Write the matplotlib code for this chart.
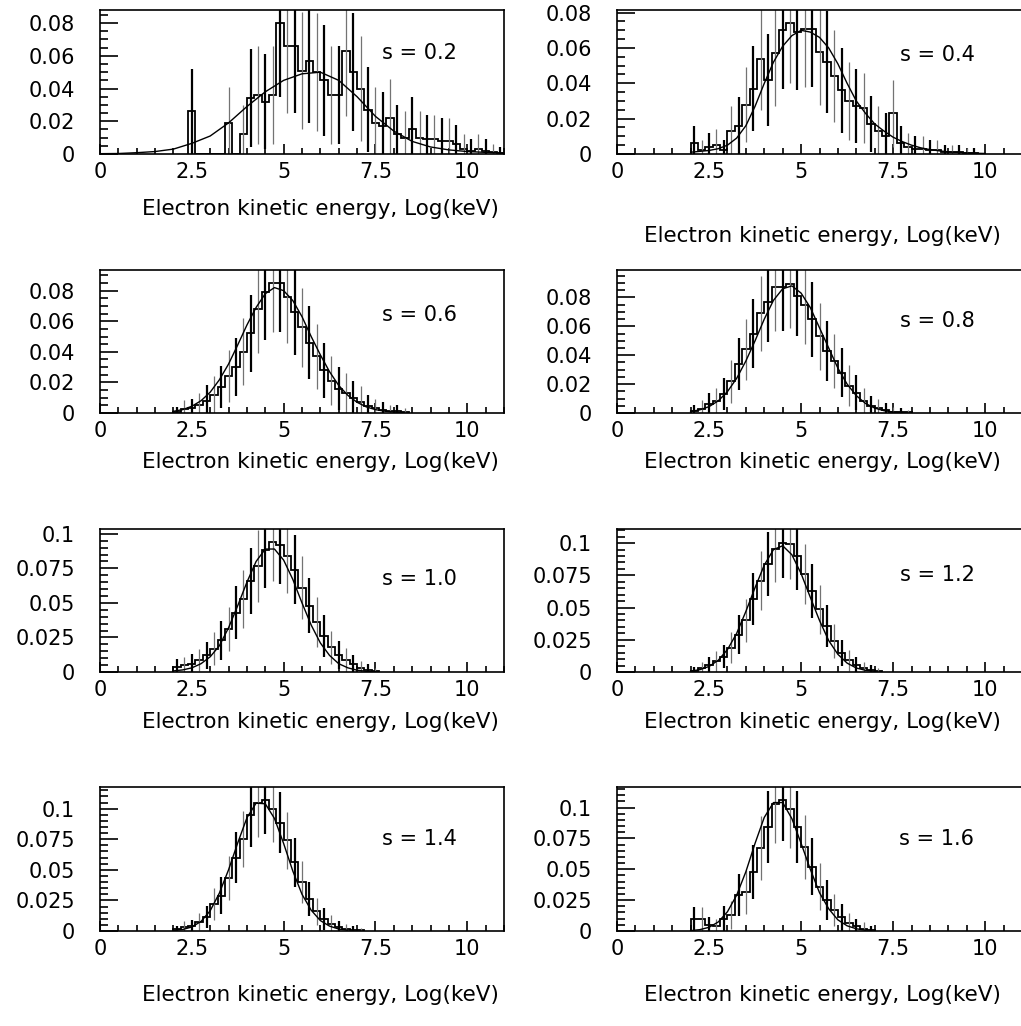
import numpy as np
import matplotlib
matplotlib.use("Agg")
import matplotlib.pyplot as plt
from matplotlib.ticker import MultipleLocator, FuncFormatter

# s parameter of each panel, left-to-right, top-to-bottom
s_labels = ["0.2", "0.4", "0.6", "0.8", "1.0", "1.2", "1.4", "1.6"]

# histograms: 0.2 wide bins, first bin edge given in hist_start
bin_w = 0.2
hist_start = [2.4, 2.0, 2.0, 2.0, 2.0, 2.0, 2.0, 2.0]

hist_02 = [0.026, 0, 0, 0, 0, 0.019, 0, 0.012, 0.034, 0.036, 0.032, 0.036, 0.080, 0.066, 0.066,
           0.051, 0.057, 0.050, 0.045, 0.036, 0.036, 0.063, 0.050, 0.040, 0.027, 0.019, 0.017, 0.022,
           0.012, 0.010, 0.015, 0.010, 0.009, 0.009, 0.008, 0.008, 0.006, 0.003, 0.002, 0.003, 0.002,
           0.001, 0.0005]
err_02 = [0.026, 0, 0, 0, 0, 0.022, 0, 0.018, 0.030, 0.030, 0.029, 0.030, 0.045, 0.041, 0.041,
          0.036, 0.038, 0.036, 0.034, 0.030, 0.030, 0.040, 0.036, 0.032, 0.026, 0.022, 0.021, 0.024,
          0.018, 0.016, 0.020, 0.016, 0.015, 0.015, 0.014, 0.014, 0.012, 0.009, 0.007, 0.009, 0.007,
          0.005, 0.004]

hist_04 = [0.006, 0.002, 0.004, 0.005, 0.002, 0.013, 0.016, 0.028, 0.037, 0.054, 0.042, 0.057, 0.070,
           0.074, 0.069, 0.071, 0.071, 0.058, 0.052, 0.044, 0.036, 0.030, 0.027, 0.026, 0.017, 0.013,
           0.010, 0.023, 0.006, 0.004, 0.003, 0.003, 0.002, 0.002, 0.001, 0.001, 0.001, 0.0005, 0.0005]
err_04 = [0.010, 0.006, 0.008, 0.009, 0.006, 0.014, 0.016, 0.021, 0.024, 0.029, 0.026, 0.030, 0.033,
          0.034, 0.033, 0.033, 0.033, 0.030, 0.029, 0.026, 0.024, 0.022, 0.021, 0.020, 0.016, 0.014,
          0.013, 0.019, 0.010, 0.008, 0.007, 0.007, 0.006, 0.006, 0.004, 0.004, 0.004, 0.003, 0.003]

hist_06 = [0.0006, 0.0025, 0.003, 0.005, 0.008, 0.012, 0.017, 0.024, 0.030, 0.040, 0.052, 0.068, 0.079,
           0.085, 0.085, 0.076, 0.066, 0.056, 0.046, 0.037, 0.028, 0.021, 0.016, 0.013, 0.010, 0.0075,
           0.0045, 0.003, 0.002, 0.0015, 0.001, 0.0005]
err_06 = [0.003, 0.006, 0.006, 0.008, 0.010, 0.012, 0.014, 0.017, 0.019, 0.022, 0.025, 0.029, 0.031,
          0.032, 0.032, 0.030, 0.028, 0.026, 0.024, 0.021, 0.018, 0.016, 0.014, 0.013, 0.011, 0.010,
          0.007, 0.006, 0.005, 0.004, 0.004, 0.003]

hist_08 = [0.0016, 0.003, 0.006, 0.0085, 0.013, 0.022, 0.034, 0.044, 0.055, 0.069, 0.077, 0.087, 0.087,
           0.089, 0.081, 0.075, 0.065, 0.053, 0.043, 0.036, 0.028, 0.019, 0.014, 0.0085, 0.005, 0.0034,
           0.002, 0.001, 0.0008, 0.0004]
err_08 = [0.004, 0.006, 0.008, 0.009, 0.011, 0.015, 0.018, 0.021, 0.024, 0.026, 0.028, 0.030, 0.030,
          0.030, 0.028, 0.027, 0.026, 0.023, 0.021, 0.019, 0.017, 0.014, 0.012, 0.009, 0.007, 0.006,
          0.005, 0.003, 0.003, 0.002]

hist_10 = [0.0036, 0.0048, 0.006, 0.0084, 0.012, 0.017, 0.023, 0.031, 0.043, 0.053, 0.066, 0.077, 0.088,
           0.094, 0.092, 0.084, 0.074, 0.061, 0.048, 0.036, 0.026, 0.018, 0.0125, 0.0085, 0.0055,
           0.0032, 0.0016, 0.0007]
err_10 = [0.006, 0.006, 0.007, 0.008, 0.010, 0.012, 0.014, 0.016, 0.019, 0.021, 0.024, 0.026, 0.027,
          0.028, 0.028, 0.027, 0.025, 0.023, 0.020, 0.018, 0.015, 0.012, 0.010, 0.009, 0.007, 0.005,
          0.004, 0.002]

hist_12 = [0.001, 0.003, 0.0057, 0.0083, 0.012, 0.019, 0.029, 0.040, 0.0565, 0.071, 0.084, 0.0956, 0.100,
           0.0995, 0.090, 0.076, 0.063, 0.0487, 0.0357, 0.024, 0.0148, 0.0091, 0.0057, 0.003, 0.0018,
           0.0008]
err_12 = [0.003, 0.005, 0.006, 0.008, 0.009, 0.012, 0.015, 0.017, 0.020, 0.023, 0.025, 0.026, 0.027,
          0.027, 0.026, 0.023, 0.021, 0.019, 0.016, 0.013, 0.010, 0.008, 0.006, 0.005, 0.004, 0.002]

hist_14 = [0.0014, 0.003, 0.004, 0.0076, 0.0116, 0.022, 0.029, 0.043, 0.060, 0.075, 0.095, 0.105, 0.107,
           0.0995, 0.0886, 0.074, 0.056, 0.040, 0.026, 0.016, 0.010, 0.006, 0.0035, 0.002, 0.001, 0.0005]
err_14 = [0.003, 0.005, 0.005, 0.007, 0.009, 0.013, 0.015, 0.018, 0.021, 0.023, 0.026, 0.028, 0.028,
          0.027, 0.025, 0.023, 0.020, 0.017, 0.014, 0.011, 0.009, 0.007, 0.005, 0.004, 0.003, 0.002]

hist_16 = [0.0094, 0.0094, 0.0046, 0.0038, 0.010, 0.013, 0.029, 0.0315, 0.048, 0.067, 0.084, 0.103, 0.106,
           0.099, 0.084, 0.068, 0.052, 0.036, 0.025, 0.017, 0.011, 0.0065, 0.0038, 0.002, 0.001]
err_16 = [0.010, 0.010, 0.007, 0.006, 0.010, 0.011, 0.017, 0.018, 0.022, 0.026, 0.029, 0.032, 0.033,
          0.032, 0.029, 0.026, 0.023, 0.019, 0.016, 0.013, 0.011, 0.008, 0.006, 0.005, 0.003]

# fitted curves
fit_start = [0.0, 2.0, 2.0, 2.0, 2.0, 2.0, 2.0, 2.0]
fit_step = [0.5, 0.25, 0.25, 0.25, 0.25, 0.25, 0.25, 0.25]
fit_02 = [0.0002, 0.0003, 0.0008, 0.0015, 0.003, 0.0065, 0.011, 0.019, 0.029, 0.038, 0.045, 0.049,
          0.050, 0.045, 0.035, 0.023, 0.014, 0.0077, 0.0043, 0.0025, 0.0015, 0.001, 0.0005]
fit_04 = [0.001, 0.0015, 0.002, 0.003, 0.005, 0.009, 0.016, 0.027, 0.040, 0.052, 0.061, 0.067, 0.070,
          0.069, 0.066, 0.060, 0.051, 0.040, 0.030, 0.023, 0.017, 0.013, 0.0095, 0.007, 0.005, 0.0035,
          0.0025, 0.0018, 0.0012, 0.0009, 0.0006, 0.0004, 0.0003]
fit_06 = [0.0011, 0.0022, 0.0044, 0.008, 0.0136, 0.0217, 0.032, 0.0445, 0.0575, 0.069, 0.078, 0.082,
          0.080, 0.0735, 0.063, 0.050, 0.038, 0.027, 0.018, 0.0115, 0.007, 0.004, 0.0022, 0.0012, 0.0006,
          0.0003]
fit_08 = [0.001, 0.0022, 0.0044, 0.0084, 0.0148, 0.024, 0.036, 0.050, 0.065, 0.078, 0.086, 0.088, 0.083,
          0.073, 0.059, 0.045, 0.031, 0.020, 0.012, 0.0066, 0.0034, 0.0016, 0.0007, 0.0003]
fit_10 = [0.0008, 0.0015, 0.003, 0.006, 0.011, 0.019, 0.032, 0.048, 0.065, 0.080, 0.089, 0.089, 0.081,
          0.067, 0.050, 0.034, 0.021, 0.012, 0.006, 0.003, 0.0013, 0.0005, 0.0002]
fit_12 = [0.0007, 0.0018, 0.0043, 0.0091, 0.0174, 0.030, 0.047, 0.0655, 0.083, 0.095, 0.098, 0.091,
          0.0764, 0.058, 0.040, 0.0244, 0.0137, 0.0069, 0.0031, 0.0013, 0.0005]
fit_14 = [0.0004, 0.0012, 0.0033, 0.0078, 0.0165, 0.031, 0.050, 0.072, 0.0925, 0.1045, 0.104, 0.092,
          0.0715, 0.049, 0.030, 0.017, 0.0085, 0.004, 0.0016, 0.0006]
fit_16 = [0.0003, 0.0011, 0.003, 0.0073, 0.0156, 0.029, 0.048, 0.071, 0.092, 0.104, 0.104, 0.091, 0.071,
          0.050, 0.031, 0.018, 0.009, 0.0042, 0.0018, 0.0006]

hists = [hist_02, hist_04, hist_06, hist_08, hist_10, hist_12, hist_14, hist_16]
errs = [err_02, err_04, err_06, err_08, err_10, err_12, err_14, err_16]
fits = [fit_02, fit_04, fit_06, fit_08, fit_10, fit_12, fit_14, fit_16]

y_top = [0.088, 0.0815, 0.0935, 0.099, 0.1035, 0.111, 0.1177, 0.1166]
y_major = [0.02, 0.02, 0.02, 0.02, 0.025, 0.025, 0.025, 0.025]
s_text_y = [0.70, 0.685, 0.685, 0.64, 0.65, 0.675, 0.64, 0.64]
xlabel = "Electron kinetic energy, Log(keV)"

plt.rcParams['font.family'] = ['DejaVu Sans']

W, H = 1021, 1026
fig = plt.figure(figsize=(W / 100, H / 100), dpi=100)

# axes boxes in pixels
col_x = [(100, 504), (617, 1022)]
row_y = [(10, 154), (270, 413), (529, 672), (787, 931)]
label_y = [(209, 236), (462, 462), (722, 722), (995, 995)]
label_x = [320, 822]

fmt = FuncFormatter(lambda v, p: f"{v:g}")

for k in range(8):
    r, c = k // 2, k % 2
    x0, x1 = col_x[c]
    t, b = row_y[r]
    ax = fig.add_axes([x0 / W, 1 - b / H, (x1 - x0) / W, (b - t) / H])

    vals = np.array(hists[k])
    err = np.array(errs[k])
    edges = hist_start[k] + bin_w * np.arange(len(vals) + 1)
    centers = edges[:-1] + bin_w / 2

    # error bars, alternating heavy / faint like the scanned original
    m = err > 0
    heavy = (np.arange(len(vals)) % 2 == 0) & m
    light = (np.arange(len(vals)) % 2 == 1) & m
    ax.vlines(centers[heavy], np.clip(vals[heavy] - err[heavy], 0, None), vals[heavy] + err[heavy],
              color='k', lw=1.6)
    ax.vlines(centers[light], np.clip(vals[light] - err[light], 0, None), vals[light] + err[light],
              color='0.45', lw=0.9)

    ax.stairs(vals, edges, color='k', lw=1.3, baseline=0)

    fx = fit_start[k] + fit_step[k] * np.arange(len(fits[k]))
    ax.plot(fx, fits[k], color='k', lw=1.0)

    ax.set_xlim(0, 11)
    ax.set_ylim(0, y_top[k])
    ax.xaxis.set_major_locator(MultipleLocator(2.5))
    ax.xaxis.set_minor_locator(MultipleLocator(0.5))
    ax.yaxis.set_major_locator(MultipleLocator(y_major[k]))
    ax.yaxis.set_minor_locator(MultipleLocator(0.005))
    ax.xaxis.set_major_formatter(fmt)
    ax.yaxis.set_major_formatter(fmt)
    ax.tick_params(which='both', direction='in', top=False, right=False, labelsize=15, width=1.2)
    ax.tick_params(axis='x', which='major', length=7, pad=6)
    ax.tick_params(axis='x', which='minor', length=4.3)
    ax.tick_params(axis='y', which='major', length=13, pad=18)
    ax.tick_params(axis='y', which='minor', length=6)
    for sp in ax.spines.values():
        sp.set_linewidth(1.2)

    ax.text(0.79, s_text_y[k], "s = " + s_labels[k],
            transform=ax.transAxes, ha='center', va='center', fontsize=15)

    fig.text(label_x[c] / W, 1 - label_y[r][c] / H, xlabel, ha='center', va='center', fontsize=15.5)

fig.savefig("out.png", dpi=100)
